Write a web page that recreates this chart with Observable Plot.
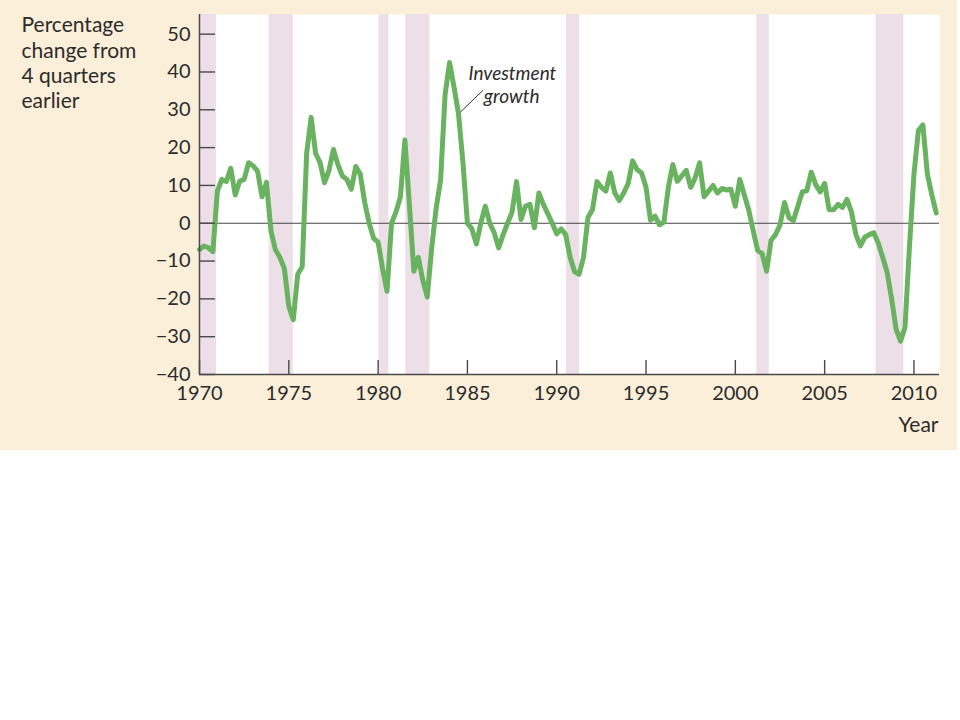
<!DOCTYPE html>
<html><head><meta charset="utf-8">
<script src="https://cdn.jsdelivr.net/npm/d3@7"></script>
<script src="https://cdn.jsdelivr.net/npm/@observablehq/plot@0.6"></script>
<style>body{margin:0;background:#fff;}</style>
</head><body><div id="chart"></div>
<script>
// Quarterly investment growth, % change from 4 quarters earlier, starting 1970 Q1
const startYear = 1970;
const growth = [
  -7, -6, -6.5, -7.5, 8.5, 11.6, 11, 14.5, 7.5, 11.1, 11.6, 16, 15.2, 13.8, 7, 10.8,
  -2, -7, -9, -12, -22, -25.5, -13.5, -11.5, 18.5, 28, 18.5, 16, 10.7, 14, 19.5, 15.5,
  12.5, 11.6, 9, 15, 13, 5.5, 0, -4, -5, -12, -18, 0, 3, 7, 22, 5,
  -12.7, -9, -15, -19.5, -6.5, 4, 11.5, 34, 42.5, 36, 29, 16, 0, -1.5, -5.5, 0,
  4.5, 0, -2.5, -6.5, -3, 0, 3, 11, 1, 4.5, 5, -1.2, 8, 5, 2.5, 0,
  -2.8, -1.5, -3, -9, -12.8, -13.5, -9, 1.5, 3.6, 11, 9.5, 8.5, 13.3, 8, 6, 8,
  10.5, 16.5, 14.2, 13.3, 9.5, 0.8, 1.9, -0.4, 0.3, 9.5, 15.5, 11.1, 12.5, 14, 9.5, 12,
  16, 7, 8.5, 10, 8, 9.2, 8.8, 9, 4.5, 11.6, 7.5, 3.5, -2, -7.2, -8, -12.7,
  -4.5, -3, -0.5, 5.5, 1.5, 0.7, 4.5, 8.3, 8.6, 13.5, 10.2, 8.3, 10.5, 3.6, 3.6, 5,
  4.2, 6.3, 3, -3, -6, -3.7, -3, -2.5, -5.2, -9, -13, -20, -28, -31.2, -27.5, -6,
  13, 24.5, 26, 13, 7.5, 2.7
];
const recessionStart = [1969.95, 1973.9, 1980.05, 1981.55, 1990.55, 2001.2, 2007.88];
const recessionEnd   = [1970.95, 1975.25, 1980.6, 1982.9, 1991.28, 2001.9, 2009.43];
const xTicks = [1970, 1975, 1980, 1985, 1990, 1995, 2000, 2005, 2010];
const yTicks = [-40, -30, -20, -10, 0, 10, 20, 30, 40, 50];
const yTitle = "Percentage\nchange from\n4 quarters\nearlier";
const xTitle = "Year";
const seriesLabelText = ["Investment", "growth"];
const seriesLabelYear = [1985.06, 1985.92];
const seriesLabelValue = [39.5, 33.4];
const leaderYear = [1984.61, 1985.88];
const leaderValue = [29.4, 35.2];

const xDomain = [1970, 2011.43];
const yDomain = [-40, 55.2];

const series = growth.map((v, i) => ({year: startYear + i / 4, value: v}));
const recessions = recessionStart.map((s, i) => ({start: Math.max(s, xDomain[0]), end: recessionEnd[i]}));
const seriesLabels = seriesLabelText.map((t, i) => ({text: t, year: seriesLabelYear[i], value: seriesLabelValue[i]}));
const leader = [{x1: leaderYear[0], y1: leaderValue[0], x2: leaderYear[1], y2: leaderValue[1]}];

const ink = "#2b2b2b";
const axisInk = "#4a4a4a";

const chart = Plot.plot({
  width: 957,
  height: 450,
  marginLeft: 199,
  marginRight: 18,
  marginTop: 14,
  marginBottom: 76,
  style: {background: "#fcefd9", fontFamily: "Lato, 'Noto Sans', sans-serif", fontSize: "20px", color: ink},
  x: {domain: xDomain, label: null},
  y: {domain: yDomain, label: null},
  marks: [
    Plot.frame({fill: "white", stroke: null}),
    Plot.rect(recessions, {x1: "start", x2: "end", fill: "#ecdfe7"}),
    Plot.ruleY([0], {stroke: "#444", strokeWidth: 1.2}),
    Plot.line(series, {x: "year", y: "value", stroke: "#69b25f", strokeWidth: 5, strokeLinejoin: "round", strokeLinecap: "round"}),
    Plot.ruleX([xDomain[0]], {stroke: axisInk, strokeWidth: 1.5}),
    Plot.ruleY([yDomain[0]], {stroke: axisInk, strokeWidth: 1.5}),
    Plot.axisY(yTicks, {tickSize: 16, dx: 16, text: null, stroke: axisInk, strokeWidth: 1.4, label: null}),
    Plot.axisY(yTicks, {tickSize: 0, tickPadding: 9, fontSize: 20, fill: ink, label: null}),
    Plot.axisX(xTicks, {tickSize: 14, dy: -14, text: null, stroke: axisInk, strokeWidth: 1.4, label: null}),
    Plot.axisX(xTicks, {tickSize: 0, tickPadding: 11, tickFormat: d => String(d), fontSize: 20, fill: ink, label: null}),
    Plot.text([yTitle], {text: d => d, frameAnchor: "top-left", textAnchor: "start", lineAnchor: "top", dx: -178, lineHeight: 1.2, fontSize: 21, fill: ink}),
    Plot.text([xTitle], {text: d => d, frameAnchor: "bottom-right", textAnchor: "end", lineAnchor: "top", dx: -1, dy: 43, fontSize: 21, fill: ink}),
    Plot.link(leader, {x1: "x1", y1: "y1", x2: "x2", y2: "y2", stroke: "#333", strokeWidth: 1}),
    Plot.text(seriesLabels, {x: "year", y: "value", text: "text", textAnchor: "start", fontStyle: "italic", fontSize: 19, fill: ink})
  ]
});
document.getElementById("chart").appendChild(chart);
</script>
</body></html>
